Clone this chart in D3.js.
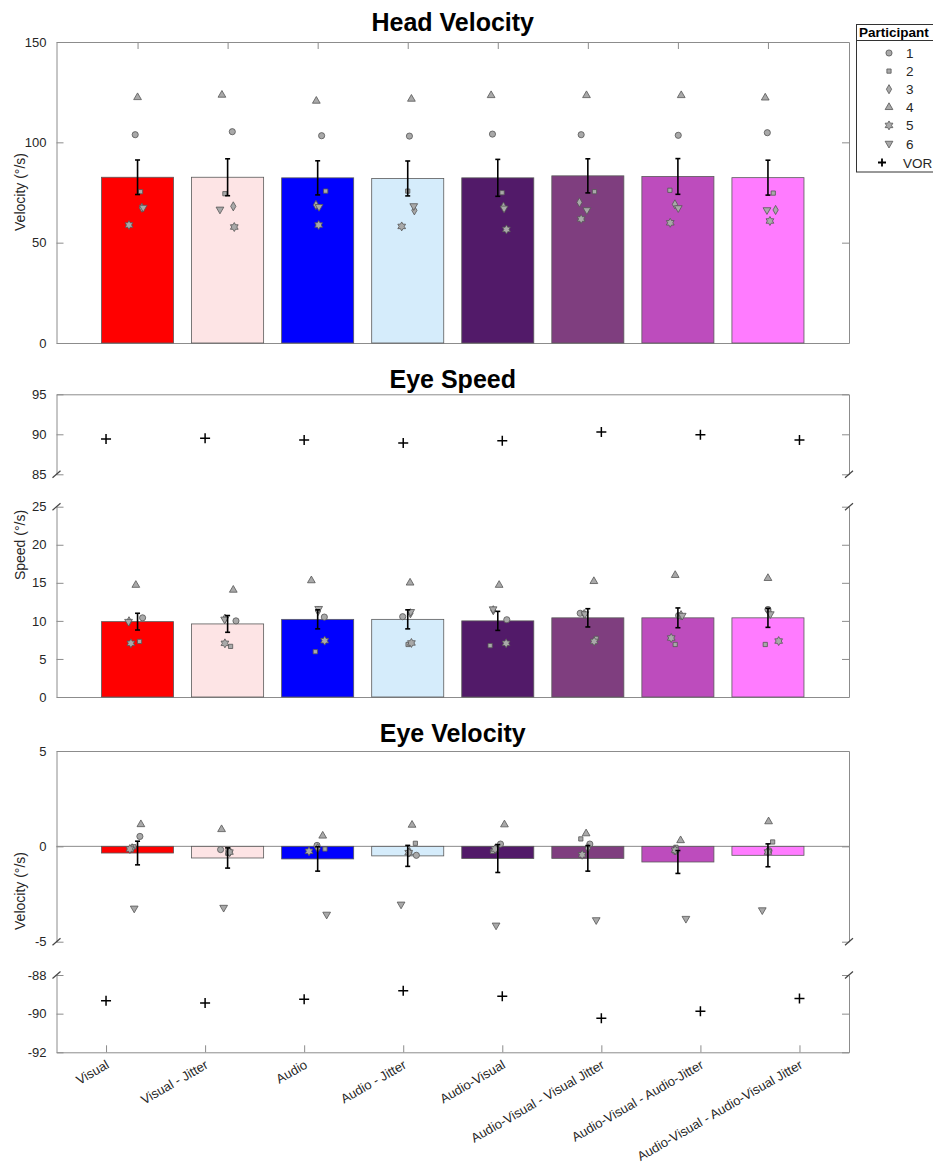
<!DOCTYPE html>
<html>
<head>
<meta charset="utf-8">
<script src="https://cdn.jsdelivr.net/npm/d3@7"></script>
<style>
  body { margin: 0; background: #fff; }
  text { font-family: "Liberation Sans", Arial, sans-serif; }
</style>
</head>
<body>
<svg width="933" height="1165"></svg>
<script>
let conditions = ["Visual", "Visual - Jitter", "Audio", "Audio - Jitter", "Audio-Visual",
  "Audio-Visual - Visual Jitter", "Audio-Visual - Audio-Jitter", "Audio-Visual - Audio-Visual Jitter"];
let participants = ["1", "2", "3", "4", "5", "6"];
let barColors = ["#ff0000", "#fde4e5", "#0000ff", "#d5ecfb", "#521a69", "#7f3e7f", "#bd4cbd", "#ff7bff"];

// head velocity: mean, sem, one row per participant
let headMean = [82.6, 82.6, 82.3, 82.0, 82.3, 83.3, 83.0, 82.4];
let headSem = [8.6, 9.2, 8.5, 8.7, 9.2, 8.5, 8.9, 8.7];
let headPts = [
  [103.8, 105.3, 103.3, 103.1, 104.1, 103.8, 103.5, 104.8],
  [75.4, 74.4, 75.7, 75.7, 74.9, 75.4, 76.1, 74.7],
  [67.4, 68.1, 68.8, 66.1, 67.9, 70.1, 69.1, 66.3],
  [122.4, 123.6, 120.6, 121.6, 123.4, 123.4, 123.4, 122.2],
  [58.8, 57.8, 58.8, 58.1, 56.6, 61.8, 59.9, 60.8],
  [67.5, 66.6, 67.9, 68.3, 67.1, 66.3, 67.3, 66.3]
];
// jitter of each point, in category units
let headJit = [
  [-0.026, 0.052, 0.044, 0.019, -0.059, -0.074, 0.004, -0.007],
  [0.033, -0.03, 0.089, 0, 0.048, 0.074, -0.089, 0.059],
  [0.048, 0.063, -0.019, 0.074, 0.063, -0.093, -0.033, 0.085],
  [0, -0.063, -0.015, 0.041, -0.074, -0.015, 0.037, -0.03],
  [-0.095, 0.074, 0.011, -0.067, 0.096, -0.074, -0.085, 0.022],
  [0.063, -0.085, 0.015, 0.067, 0.07, -0.011, 0.004, -0.011]
];

// eye speed
let speedVor = [89.4, 89.5, 89.3, 88.9, 89.2, 90.3, 89.95, 89.3];
let speedMean = [9.9, 9.6, 10.2, 10.2, 10.0, 10.4, 10.4, 10.4];
let speedSem = [1.1, 1.1, 1.25, 1.25, 1.25, 1.2, 1.3, 1.25];
let speedPts = [
  [10.4, 10.0, 10.5, 10.55, 10.15, 11.0, 10.7, 11.5],
  [7.3, 6.65, 5.95, 6.9, 6.75, 7.7, 6.9, 6.9],
  [9.95, 10.3, 11.3, 11.0, 11.4, 10.9, 10.75, 11.1],
  [14.7, 14.06, 15.3, 15.0, 14.7, 15.2, 16.0, 15.6],
  [7.05, 7.05, 7.4, 7.1, 7.05, 7.3, 7.75, 7.35],
  [9.9, 10.2, 11.6, 11.2, 11.55, 10.9, 10.7, 10.9]
];
let speedJit = [
  [0.056, 0.093, 0.074, -0.056, 0.1, -0.085, 0.008, 0],
  [0.022, 0.033, -0.026, 0.004, -0.085, 0.093, -0.03, -0.03],
  [-0.095, -0.03, 0.005, 0.03, -0.05, -0.04, 0.035, 0.015],
  [-0.019, 0.063, -0.07, 0.026, 0.015, 0.067, -0.03, 0],
  [-0.074, -0.03, 0.078, 0.041, 0.093, 0.07, -0.074, 0.119],
  [-0.1, -0.033, 0.011, 0.033, -0.052, -0.033, 0.048, 0.026]
];

// eye velocity
let velVor = [-89.33, -89.45, -89.26, -88.81, -89.1, -90.24, -89.88, -89.21];
let velMean = [-0.35, -0.61, -0.66, -0.5, -0.64, -0.63, -0.82, -0.47];
let velSem = [0.62, 0.53, 0.64, 0.55, 0.73, 0.67, 0.6, 0.6];
let velPts = [
  [0.52, -0.17, 0.05, -0.47, 0.12, 0.12, -0.26, -0.23],
  [-0.02, -0.37, -0.14, 0.16, -0.26, 0.39, -0.05, 0.23],
  [-0.1, -0.28, -0.1, -0.3, -0.1, -0.1, -0.2, -0.25],
  [1.15, 0.89, 0.55, 1.12, 1.14, 0.67, 0.31, 1.3],
  [-0.14, -0.3, -0.26, -0.33, -0.14, -0.44, -0.2, -0.3],
  [-3.25, -3.21, -3.57, -3.04, -4.14, -3.86, -3.79, -3.34]
];
let velJit = [
  [0.026, -0.078, -0.007, 0.096, 0.03, 0.022, -0.03, 0.011],
  [-0.041, 0.003, 0.081, 0.085, -0.059, -0.078, -0.022, 0.052],
  [-0.06, 0.026, 0, 0.02, -0.02, 0, -0.03, 0],
  [0.037, -0.067, 0.056, 0.048, 0.074, -0.019, 0.03, 0.007],
  [-0.085, 0.02, -0.096, 0.011, -0.03, -0.063, -0.03, 0],
  [-0.037, -0.044, 0.1, -0.074, -0.019, 0.093, 0.089, -0.063]
];

let svg = d3.select("svg");
let L = 56.5, R = 849;
let idx = d3.range(1, 9);

let xBar = d3.scaleLinear().domain([0.1, 8.9]).range([L, R]);
let xVor = d3.scaleLinear().domain([0.5, 8.5]).range([L, R]);

let headY = d3.scaleLinear().domain([0, 150]).range([343, 42]);
let spdTopY = d3.scaleLinear().domain([85, 95]).range([474.3, 394.3]);
let spdBotY = d3.scaleLinear().domain([0, 25]).range([697, 506.7]);
let velTopY = d3.scaleLinear().domain([-5, 5]).range([941.7, 751]);
let velBotY = d3.scaleLinear().domain([-92, -88]).range([1052.3, 975]);

let axisGray = "#8c8c8c";
let styleAxis = g => {
  g.selectAll(".domain").attr("stroke", axisGray);
  g.selectAll(".tick line").attr("stroke", axisGray);
  g.selectAll("text").attr("fill", "#262626").style("font-size", "13px")
    .style("font-family", '"Liberation Sans", Arial, sans-serif');
};

// left + right axes with inward ticks
let sides = (y, ticks) => {
  svg.append("g").attr("transform", `translate(${L},0)`)
    .call(d3.axisLeft(y).tickValues(ticks).tickSizeInner(-7).tickSizeOuter(0).tickPadding(10)
      .tickFormat(d => String(d)))
    .call(styleAxis);
  svg.append("g").attr("transform", `translate(${R},0)`)
    .call(d3.axisRight(y).tickValues(ticks).tickSizeInner(-7).tickSizeOuter(0).tickFormat(""))
    .call(styleAxis);
};

let hLine = (yPos, axisFn, x, ticks) => {
  svg.append("g").attr("transform", `translate(0,${yPos})`)
    .call(axisFn(x).tickValues(ticks).tickSizeInner(-7).tickSizeOuter(0).tickFormat(""))
    .call(styleAxis);
};

let breakMark = (x, y) => {
  svg.append("line")
    .attr("x1", x - 4).attr("y1", y + 3.5).attr("x2", x + 4).attr("y2", y - 3.5)
    .attr("stroke", "#444").attr("stroke-width", 1.2);
};

// markers
let hexagram = {
  draw(ctx, size) {
    let r = Math.sqrt(size / 1.2), ri = r / Math.sqrt(3);
    for (let i = 0; i < 12; i++) {
      let a = i * Math.PI / 6 - Math.PI / 2, rr = i % 2 ? ri : r;
      let px = rr * Math.cos(a), py = rr * Math.sin(a);
      if (i) ctx.lineTo(px, py); else ctx.moveTo(px, py);
    }
    ctx.closePath();
  }
};
let symbols = [
  d3.symbol(d3.symbolCircle, 30),
  d3.symbol(d3.symbolSquare, 18),
  d3.symbol(d3.symbolDiamond, 24),
  d3.symbol(d3.symbolTriangle, 26),
  d3.symbol(hexagram, 24),
  d3.symbol(d3.symbolTriangle, 26)
];
let rot = p => (p === 5 ? " rotate(180)" : "");

let title = (txt, y) => {
  svg.append("text").attr("x", (L + R) / 2).attr("y", y).attr("text-anchor", "middle")
    .style("font-size", "25px").style("font-weight", "bold").attr("fill", "#000").text(txt);
};
let yLabel = (txt, cy) => {
  svg.append("text").attr("transform", `translate(25,${cy}) rotate(-90)`)
    .attr("text-anchor", "middle").style("font-size", "14px").attr("fill", "#262626").text(txt);
};

let drawBars = (y, mean, base) => {
  svg.append("g").selectAll("rect").data(mean).join("rect")
    .attr("x", (d, i) => xBar(i + 1 - 0.4))
    .attr("width", xBar(0.9) - xBar(0.1))
    .attr("y", d => Math.min(y(d), y(base)))
    .attr("height", d => Math.abs(y(d) - y(base)))
    .attr("fill", (d, i) => barColors[i])
    .attr("stroke", "#5a5a5a").attr("stroke-width", 0.8);
};

let drawPoints = (y, pts, jit) => {
  pts.forEach((vals, p) => {
    svg.append("g").selectAll("path").data(vals).join("path")
      .attr("d", symbols[p])
      .attr("transform", (v, i) => `translate(${xBar(i + 1 + jit[p][i])},${y(v)})` + rot(p))
      .attr("fill", "#a9a9a9").attr("stroke", "#555").attr("stroke-width", 0.8);
  });
};

let drawErr = (y, mean, sem) => {
  let g = svg.append("g").attr("stroke", "#000").attr("stroke-width", 1.6);
  mean.forEach((m, i) => {
    let x = xBar(i + 1);
    g.append("line").attr("x1", x).attr("x2", x).attr("y1", y(m - sem[i])).attr("y2", y(m + sem[i]));
    [m - sem[i], m + sem[i]].forEach(v => {
      g.append("line").attr("x1", x - 2.5).attr("x2", x + 2.5).attr("y1", y(v)).attr("y2", y(v));
    });
  });
};

let drawVor = (y, vals) => {
  svg.append("g").selectAll("path").data(vals).join("path")
    .attr("d", (d, i) => {
      let cx = xVor(i + 1), cy = y(d);
      return `M${cx - 5},${cy}H${cx + 5}M${cx},${cy - 5}V${cy + 5}`;
    })
    .attr("stroke", "#000").attr("stroke-width", 1.5).attr("fill", "none");
};

// ---- Head Velocity
title("Head Velocity", 31);
sides(headY, [0, 50, 100, 150]);
hLine(headY(150), d3.axisTop, xBar, idx);
hLine(headY(0), d3.axisBottom, xBar, idx);
yLabel("Velocity (°/s)", 192);
drawBars(headY, headMean, 0);
drawPoints(headY, headPts, headJit);
drawErr(headY, headMean, headSem);

// ---- Eye Speed
title("Eye Speed", 388);
sides(spdTopY, [85, 90, 95]);
hLine(spdTopY(95), d3.axisTop, xVor, []);
sides(spdBotY, [0, 5, 10, 15, 20, 25]);
hLine(spdBotY(0), d3.axisBottom, xBar, idx);
[L, R].forEach(x => { breakMark(x, spdTopY(85)); breakMark(x, spdBotY(25)); });
yLabel("Speed (°/s)", 545);
drawVor(spdTopY, speedVor);
drawBars(spdBotY, speedMean, 0);
drawPoints(spdBotY, speedPts, speedJit);
drawErr(spdBotY, speedMean, speedSem);

// ---- Eye Velocity
title("Eye Velocity", 742);
sides(velTopY, [-5, 0, 5]);
hLine(velTopY(5), d3.axisTop, xVor, []);
svg.append("line").attr("x1", L).attr("x2", R).attr("y1", velTopY(0)).attr("y2", velTopY(0))
  .attr("stroke", axisGray);
sides(velBotY, [-92, -90, -88]);
hLine(velBotY(-92), d3.axisBottom, xVor, idx);
[L, R].forEach(x => { breakMark(x, velTopY(-5)); breakMark(x, velBotY(-88)); });
yLabel("Velocity (°/s)", 891);
drawBars(velTopY, velMean, 0);
drawPoints(velTopY, velPts, velJit);
drawErr(velTopY, velMean, velSem);
drawVor(velBotY, velVor);

svg.append("g").selectAll("text").data(conditions).join("text")
  .attr("transform", (d, i) => `translate(${xVor(i + 1) + 4},${velBotY(-92) + 15}) rotate(-30)`)
  .attr("text-anchor", "end").style("font-size", "13px").attr("fill", "#262626")
  .text(d => d);

// ---- Legend
let lg = svg.append("g");
lg.append("rect").attr("x", 856.5).attr("y", 24.5).attr("width", 90).attr("height", 147.5)
  .attr("fill", "#fff").attr("stroke", "#333");
lg.append("line").attr("x1", 856.5).attr("x2", 946).attr("y1", 40.5).attr("y2", 40.5).attr("stroke", "#333");
lg.append("text").attr("x", 859).attr("y", 37).style("font-size", "13.5px").style("font-weight", "bold")
  .text("Participant");
participants.forEach((p, i) => {
  let cy = 53 + i * 18.1;
  lg.append("path").attr("d", symbols[i]).attr("transform", `translate(889,${cy})` + rot(i))
    .attr("fill", "#a9a9a9").attr("stroke", "#555").attr("stroke-width", 0.8);
  lg.append("text").attr("x", 906).attr("y", cy + 5).style("font-size", "13.5px").attr("fill", "#262626").text(p);
});
lg.append("path").attr("d", "M878,162.5H886M882,158.5V166.5").attr("stroke", "#000").attr("stroke-width", 1.8);
lg.append("text").attr("x", 903).attr("y", 167.5).style("font-size", "13.5px").attr("fill", "#262626").text("VOR");
</script>
</body>
</html>
